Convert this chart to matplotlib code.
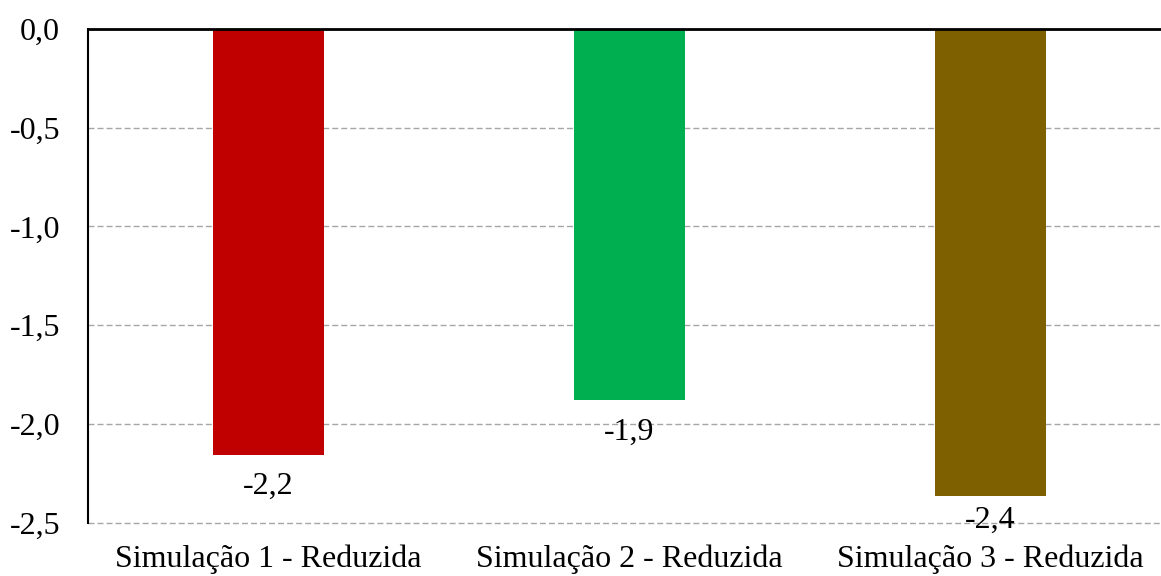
import matplotlib
matplotlib.use("Agg")
import matplotlib.pyplot as plt
from matplotlib.ticker import FuncFormatter

# ---------------------------------------------------------------------------
# Data
# ---------------------------------------------------------------------------
categories = ["Simulação 1 - Reduzida", "Simulação 2 - Reduzida", "Simulação 3 - Reduzida"]
values     = [-2.155, -1.878, -2.363]
bar_colors = ["#C00000", "#00B050", "#7F6000"]
y_ticks    = [0.0, -0.5, -1.0, -1.5, -2.0, -2.5]

plt.rcParams["font.family"] = ["Liberation Serif", "DejaVu Serif"]

fig = plt.figure(figsize=(11.61, 5.76), dpi=100)
ax = fig.add_axes([88 / 1161, 53.3 / 576, (1171 - 88) / 1161, 493.7 / 576])

x = list(range(len(categories)))
ax.bar(x, values, width=0.31, color=bar_colors, zorder=3)

# data labels below each bar, kept inside the plot area
for xi, v in zip(x, values):
    ly = max(v - 0.162, -2.49)
    ax.text(xi, ly, f"{v:.1f}".replace(".", ","), ha="center", va="center",
            fontsize=23, zorder=4)

ax.set_xlim(-0.5, 2.5)
ax.set_ylim(-2.5, 0.0)
ax.set_yticks(y_ticks)
ax.yaxis.set_major_formatter(FuncFormatter(lambda v, _: f"{v:.1f}".replace(".", ",")))
ax.set_xticks(x)
ax.set_xticklabels(categories)
ax.tick_params(axis="y", length=0, pad=20, labelsize=23)
ax.tick_params(axis="x", length=0, pad=16, labelsize=23)

ax.grid(axis="y", color="#A6A6A6", linestyle=(0, (4.3, 2.2)), linewidth=1, zorder=1)
for gl in ax.get_ygridlines():
    gl.set_clip_on(False)
ax.spines["bottom"].set_visible(False)
ax.spines["right"].set_visible(False)
ax.spines["left"].set_linewidth(1.5)
ax.spines["top"].set_linewidth(2)
ax.spines["top"].set_zorder(5)

fig.savefig("out.png", dpi=100)
